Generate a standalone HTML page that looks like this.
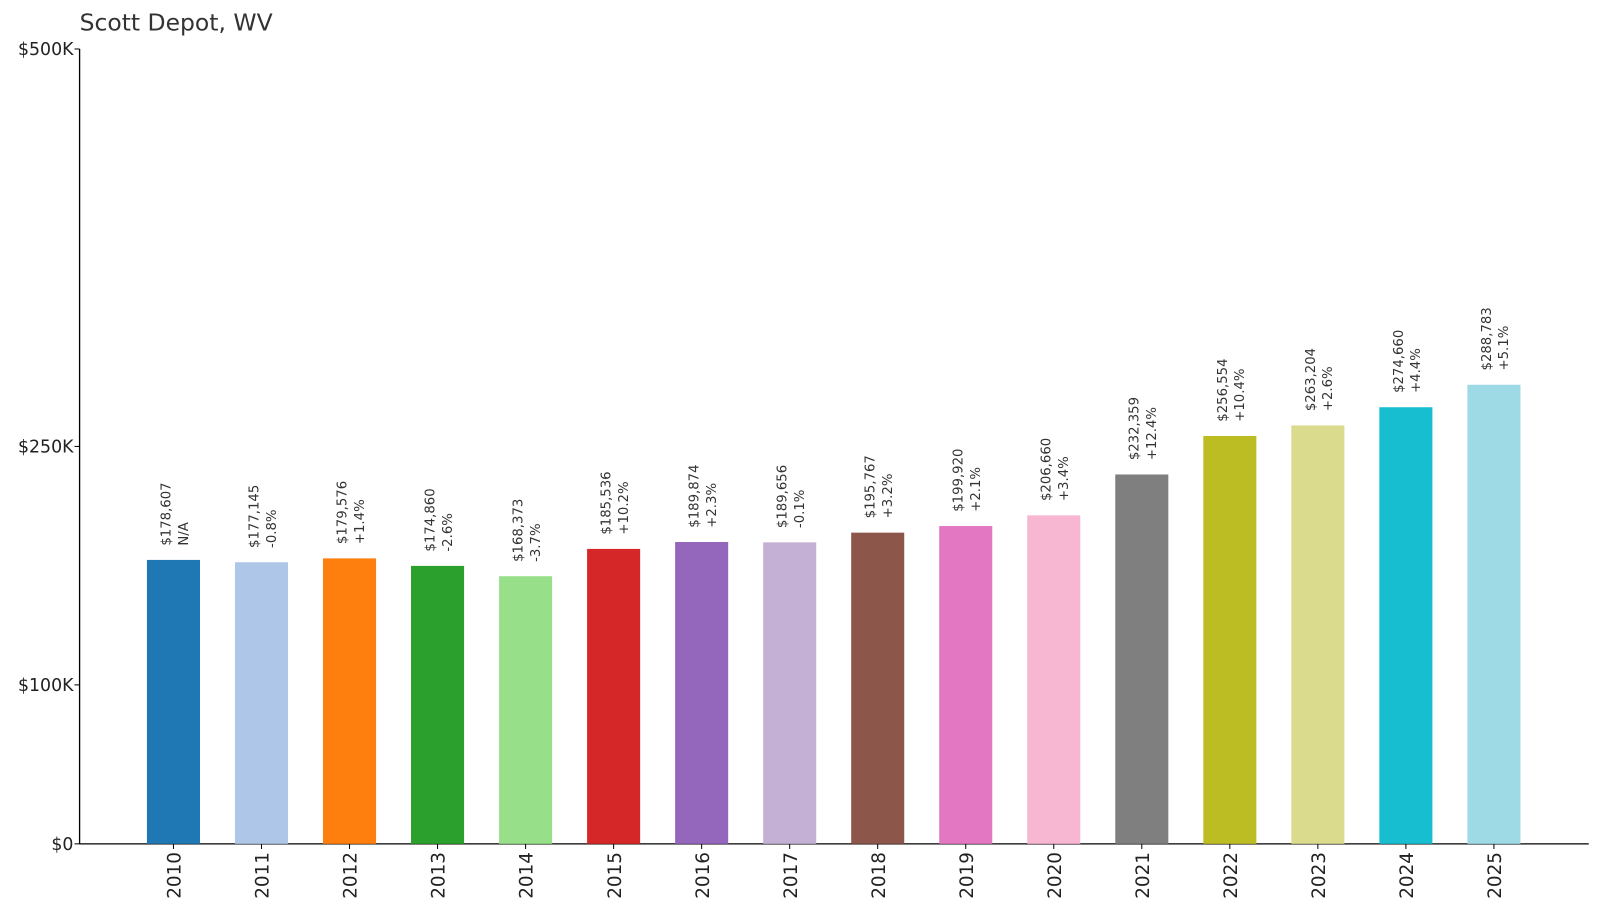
<!DOCTYPE html>
<html><head><meta charset="utf-8"><style>
body{margin:0;background:#fff;}
svg text{font-family:"DejaVu Sans","Liberation Sans",sans-serif;}
</style></head><body>
<svg id="chart" width="1600" height="910" xmlns="http://www.w3.org/2000/svg">
<g transform="scale(1.0204)">
<text x="78" y="30" font-size="23" fill="#333">Scott Depot, WV</text>
<g id="axes"></g>
<g id="bars"></g>
</g>
</svg>
<script>
const years=["2010","2011","2012","2013","2014","2015","2016","2017","2018","2019","2020","2021","2022","2023","2024","2025"];
const values=[178607,177145,179576,174860,168373,185536,189874,189656,195767,199920,206660,232359,256554,263204,274660,288783];
const changes=["N/A","-0.8%","+1.4%","-2.6%","-3.7%","+10.2%","+2.3%","-0.1%","+3.2%","+2.1%","+3.4%","+12.4%","+10.4%","+2.6%","+4.4%","+5.1%"];
const tickVals=[0,100000,250000,500000];
const tickLabels=["$0","$100K","$250K","$500K"];
const colors=["#1f77b4","#aec7e8","#ff7f0e","#2ca02c","#98df8a","#d62728","#9467bd","#c5b0d5","#8c564b","#e377c2","#f7b6d2","#7f7f7f","#bcbd22","#dbdb8d","#17becf","#9edae5"];
const NS="http://www.w3.org/2000/svg";
const y0=827,y1=48,vmax=500000;
const yScale=v=>y0-(v/vmax)*(y0-y1);
const xStart=170,xStep=86.27,bw=52;
const xScale=i=>xStart+i*xStep;
const axes=document.getElementById('axes'),bars=document.getElementById('bars');
function mk(tag,attrs,parent){const e=document.createElementNS(NS,tag);for(const k in attrs)e.setAttribute(k,attrs[k]);parent.appendChild(e);return e;}
let l=mk('line',{x1:78,y1:y1,x2:78,y2:y0,stroke:'#000','stroke-width':1.3},axes);


l=mk('line',{x1:78,y1:y0,x2:1557,y2:y0,stroke:'#000','stroke-width':1.3},axes);


tickVals.forEach((v,i)=>{const y=yScale(v);
 const t=mk('line',{x1:73,y1:y,x2:78,y2:y,stroke:'#000'},axes);
 
 
 const tx=mk('text',{x:72,y:y+6,'text-anchor':'end','font-size':17,fill:'#222'},axes);tx.textContent=tickLabels[i];
 
 
});
years.forEach((yr,i)=>{const cx=xScale(i),top=yScale(values[i]);
 const r=mk('rect',{x:cx-bw/2,y:top,width:bw,height:y0-top,fill:colors[i]},bars);
 
 
 const tk=mk('line',{x1:cx,y1:y0,x2:cx,y2:y0+5,stroke:'#000'},axes);
 
 
 const xl=mk('text',{transform:`translate(${cx+7},${y0+8}) rotate(-90)`,'text-anchor':'end','font-size':18,fill:'#222'},axes);xl.textContent=yr;
 
 
 const vl=mk('text',{transform:`translate(${cx-3},${top-14}) rotate(-90)`,'font-size':13,fill:'#333'},bars);vl.textContent='$'+values[i].toLocaleString('en-US');
 
 
 const pl=mk('text',{transform:`translate(${cx+14},${top-14}) rotate(-90)`,'font-size':13,fill:'#333'},bars);pl.textContent=changes[i];
 
 
});
</script>
</body></html>
